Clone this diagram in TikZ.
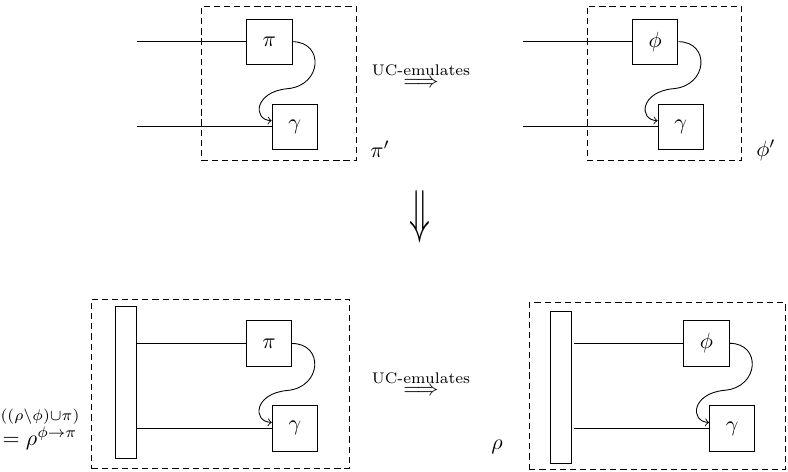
\documentclass[tikz,border=0pt]{standalone}
\usepackage{amsmath}
\usepackage{graphicx}
\usetikzlibrary{calc}

% feedback wire from the east side of #1 looping round into the west side of #2
\newcommand\loopwire[2]{%
  \draw[->] (#1.east)
    .. controls ($(#1.east)+(32,0)$) and ($(#1.east)+(30,44)$) .. ($(#1.east)+(-5,47)$)
    .. controls ($(#1.east)+(-38,50)$) and ($(#1.east)+(-40,78)$) .. ($(#2.west)+(0,-6)$);}

\begin{document}
\begin{tikzpicture}[x=0.4545pt,y=-0.4545pt,
  proc/.style={draw, minimum width=20.6pt, minimum height=20.6pt, inner sep=0pt},
  bar/.style={draw, minimum width=9.5pt, minimum height=68.9pt, inner sep=0pt},
  frame/.style={draw, dash pattern=on 2.8pt off 1.8pt, inner sep=0pt},
  lbl/.style={inner sep=0pt}]
\useasboundingbox (0,0) rectangle (788,472);

% ---- upper left: pi composed with gamma
\node[frame, minimum width=70.2pt, minimum height=70.3pt] (fA) at (279,83.5) {};
\node[proc] (pA) at (269.3,41.7) {$\pi$};
\node[proc] (gA) at (294.8,126.7) {$\gamma$};
\coordinate (iA1) at (136.7,41.7);
\coordinate (iA2) at (136.7,126.7);
\draw (iA1) -- (pA.west);
\draw (iA2) -- (gA.west);
\loopwire{pA}{gA}
\node[lbl] (lA) at (380,149) {$\pi'$};

% ---- upper right: phi composed with gamma
\node[frame, minimum width=70.2pt, minimum height=70.3pt] (fB) at (664.5,83.5) {};
\node[proc] (pB) at (655.2,41.7) {$\phi$};
\node[proc] (gB) at (680.7,126.7) {$\gamma$};
\coordinate (iB1) at (522.7,41.7);
\coordinate (iB2) at (522.7,126.7);
\draw (iB1) -- (pB.west);
\draw (iB2) -- (gB.west);
\loopwire{pB}{gB}
\node[lbl] (lB) at (766,150) {$\phi'$};

% ---- emulation arrows
\node[lbl] (eA) at (421,75) {$\overset{\text{UC-emulates}}{\Longrightarrow}$};
\node[lbl] (dn) at (419.5,217) {\resizebox{9.5pt}{18.6pt}{$\Downarrow$}};
\node[lbl] (eB) at (421,383) {$\overset{\text{UC-emulates}}{\Longrightarrow}$};

% ---- lower left: environment rho with pi substituted
\node[frame, minimum width=117.2pt, minimum height=76.7pt] (fC) at (220.4,383.7) {};
\node[bar] (bC) at (126.2,382.5) {};
\node[proc] (pC) at (269,343.5) {$\pi$};
\node[proc] (gC) at (294.9,428.4) {$\gamma$};
\draw (bC.east |- pC.west) -- (pC.west);
\draw (bC.east |- gC.west) -- (gC.west);
\loopwire{pC}{gC}
\node[lbl] (lD) at (40,428) {$\overset{((\rho\setminus\phi)\cup\pi)}{=\rho^{\phi\rightarrow\pi}}$};

% ---- lower right: environment rho with phi
\node[frame, minimum width=116.5pt, minimum height=75.7pt] (fD) at (657.5,386) {};
\node[bar] (bD) at (560.5,387.2) {};
\node[proc] (pD) at (706.5,343.3) {$\phi$};
\node[proc] (gD) at (732.2,428.5) {$\gamma$};
\draw[shorten <=1.4pt] (bD.east |- pD.west) -- (pD.west);
\draw[shorten <=1.4pt] (bD.east |- gD.west) -- (gD.west);
\loopwire{pD}{gD}
\node[lbl] (lC) at (497,447) {$\rho$};
\end{tikzpicture}
\end{document}
